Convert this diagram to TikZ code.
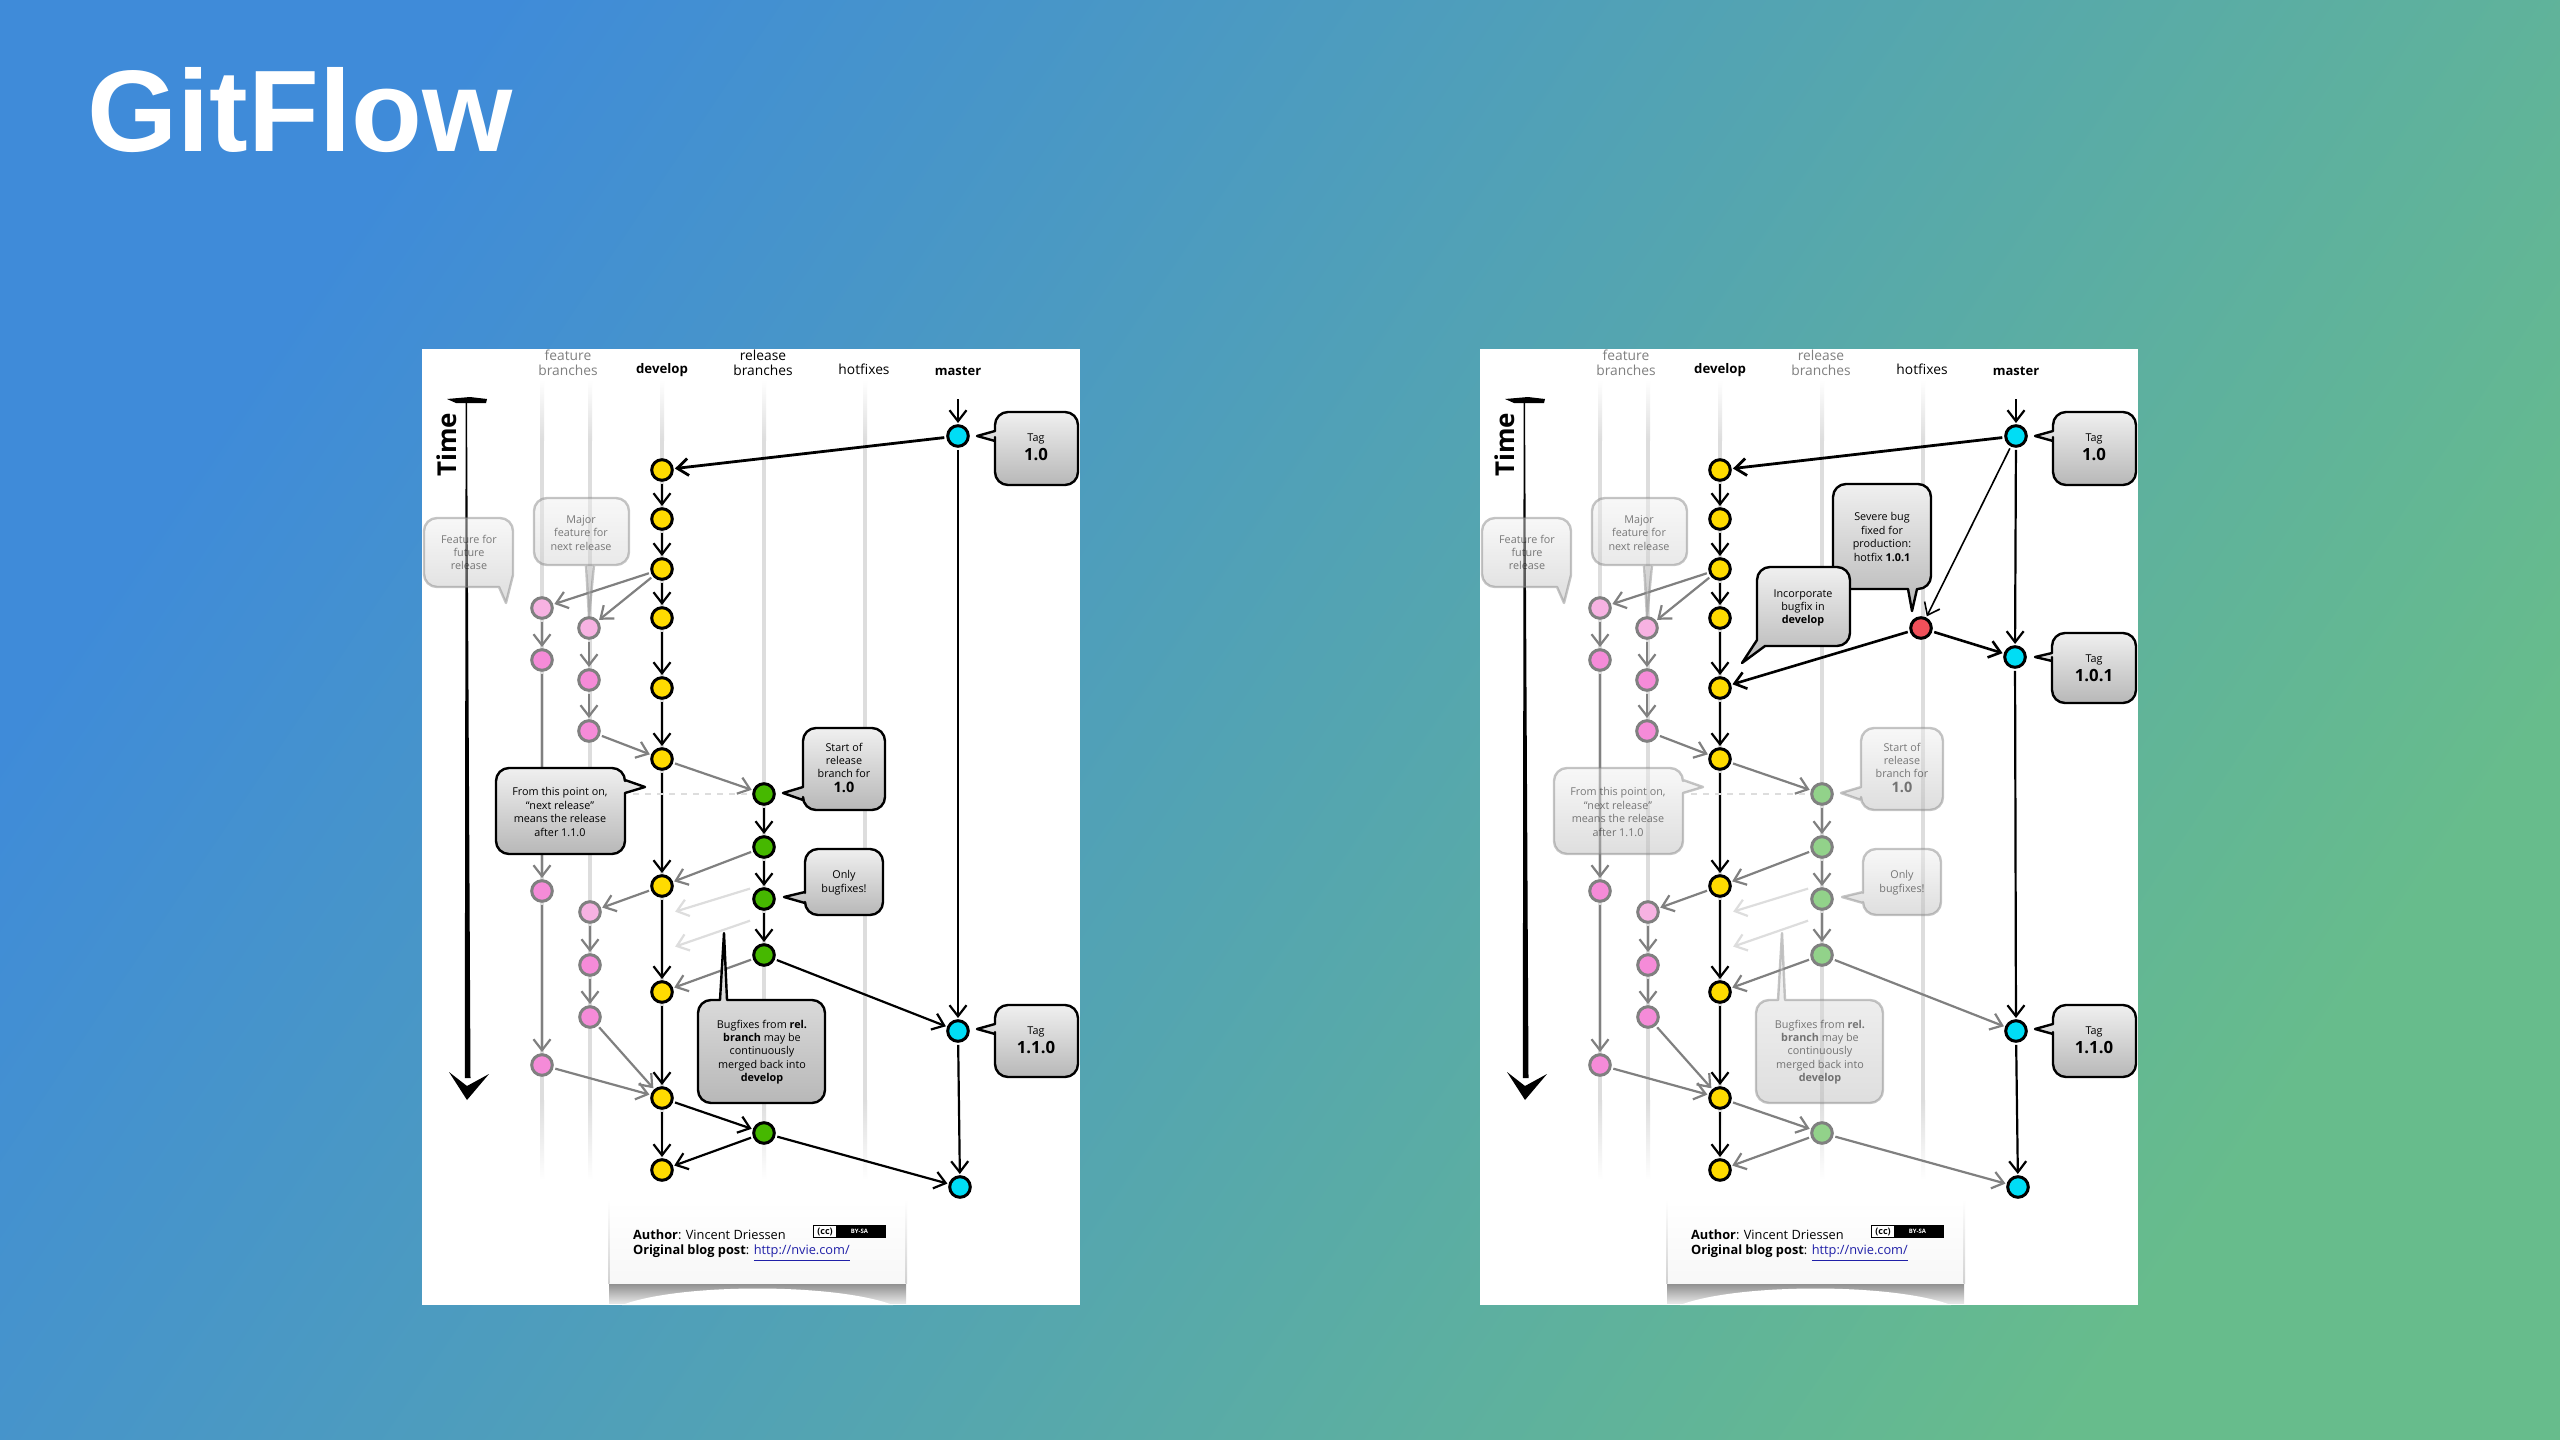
\documentclass[tikz,border=0pt]{standalone}
\usepackage{fontspec}
\setmainfont{Open Sans}
\newfontfamily\titlefont{Liberation Sans}
\usetikzlibrary{arrows.meta}

\definecolor{bgblue}{HTML}{3F8BD9}
\definecolor{bggreen}{HTML}{67BC8C}
\definecolor{commityellow}{HTML}{FFDB00}
\definecolor{commitcyan}{HTML}{00DDF5}
\definecolor{commitgreen}{HTML}{46B800}
\definecolor{commitfade}{HTML}{92D28A}
\definecolor{commitpink}{HTML}{F58BD8}
\definecolor{commitpale}{HTML}{F7B2E2}
\definecolor{commitred}{HTML}{F0505A}
\definecolor{lifegrey}{HTML}{DDDDDD}
\definecolor{linkblue}{HTML}{2020A8}

\tikzset{
    commit/.style={circle, draw=black, line width=1.5pt, minimum size=10.3pt, inner sep=0pt},
    devnode/.style={commit, fill=commityellow},
    tagnode/.style={commit, fill=commitcyan},
    hotnode/.style={commit, fill=commitred},
    featnode/.style={commit, draw=gray, fill=commitpink},
    palenode/.style={commit, draw=gray, fill=commitpale},
    mainline/.style={draw=black, line width=1.1pt, -{Straight Barb[length=5.5pt,width=8.5pt]}, shorten <=1pt, shorten >=.6pt},
    greyline/.style={mainline, draw=gray},
    ghostline/.style={mainline, draw=lifegrey},
    bubble/.style={draw=black, line width=1.2pt, line join=round, top color=black!6, bottom color=black!28},
    fadebubble/.style={bubble, draw=gray, opacity=.45},
    bubtext/.style={align=center, font=\fontsize{5.4}{6.7}\selectfont},
    headtext/.style={align=center, font=\fontsize{6.9}{7.4}\selectfont}
}

% one grey branch line with its soft ends
\newcommand{\lifeline}[1]{
    \shade[top color=white, bottom color=lifegrey] (#1-2,380) rectangle (#1+2,440);
    \fill[lifegrey] (#1-2,440) rectangle (#1+2,1100);
    \shade[top color=lifegrey, bottom color=white] (#1-2,1100) rectangle (#1+2,1180);
}

% everything that the two pictures share
\newcommand{\flowsheet}{
    \fill[white] (422,349) rectangle (1080,1305);

    \lifeline{542}
    \lifeline{590}
    \lifeline{662}
    \lifeline{764}
    \lifeline{865}

    \node[headtext, text=gray] (featlabel) at (568,363) {feature\\branches};
    \node[headtext, font=\fontsize{6.6}{7.4}\selectfont\bfseries] (devlabel) at (662,370.5) {develop};
    \node[rellabel] (rellabel) at (763,363) {release\\branches};
    \node[headtext] (hotlabel) at (864,369) {hotfixes};
    \node[headtext, font=\fontsize{6.5}{7.4}\selectfont\bfseries] (masterlabel) at (958,371) {master};

    % time arrow
    \fill[black] (447,399) -- (470,397) -- (487,399) -- (486,403) -- (456,403) -- cycle;
    \fill[black] (465.6,400) -- (467,400) -- (470.5,1078) -- (464.8,1078) -- cycle;
    \fill[black] (449,1072) -- (467,1086) -- (489,1074) -- (467,1100) -- cycle;
    \node[rotate=90, font=\fontsize{13}{13}\selectfont\bfseries] (timelabel) at (447,445) {Time};

    % commits
    \node[devnode] (d1) at (662,470) {};
    \node[devnode] (d2) at (662,519) {};
    \node[devnode] (d3) at (662,569) {};
    \node[devnode] (d4) at (662,618) {};
    \node[devnode] (d5) at (662,688) {};
    \node[devnode] (d6) at (662,759) {};
    \node[devnode] (d7) at (662,886) {};
    \node[devnode] (d8) at (662,992) {};
    \node[devnode] (d9) at (662,1098) {};
    \node[devnode] (d10) at (662,1170) {};

    \node[palenode] (fa) at (542,608) {};
    \node[featnode] (fb) at (542,660) {};
    \node[featnode] (fc) at (542,891) {};
    \node[featnode] (fd) at (542,1065) {};

    \node[palenode] (ga) at (589,628) {};
    \node[featnode] (gb) at (589,680) {};
    \node[featnode] (gc) at (589,731) {};
    \node[palenode] (gd) at (590,912) {};
    \node[featnode] (ge) at (590,965) {};
    \node[featnode] (gf) at (590,1017) {};

    \node[relnode] (r1) at (764,794) {};
    \node[relnode] (r2) at (764,847) {};
    \node[relnode] (r3) at (764,899) {};
    \node[relnode] (r4) at (764,955) {};
    \node[relnode] (r5) at (764,1133) {};

    \node[tagnode] (m1) at (958,436) {};
    \node[tagnode] (m3) at (958,1031) {};
    \node[tagnode] (m4) at (960,1187) {};

    \coordinate (masterin) at (958,397);
    \coordinate (fromdash) at (633,794);
    \coordinate (ghostaa) at (752,888);
    \coordinate (ghostab) at (674,912);
    \coordinate (ghostba) at (752,920);
    \coordinate (ghostbb) at (674,947);

    % connectors
    \draw[mainline] (masterin) -- (m1);
    \draw[mainline, line width=1.4pt] (m1) -- (d1);
    \draw[mainline] (m3) -- (m4);

    \draw[mainline] (d1) -- (d2);
    \draw[mainline] (d2) -- (d3);
    \draw[mainline] (d3) -- (d4);
    \draw[mainline] (d4) -- (d5);
    \draw[mainline] (d5) -- (d6);
    \draw[mainline] (d6) -- (d7);
    \draw[mainline] (d7) -- (d8);
    \draw[mainline] (d8) -- (d9);
    \draw[mainline] (d9) -- (d10);

    \draw[greyline] (d3) -- (fa);
    \draw[greyline] (d3) -- (ga);
    \draw[greyline] (fa) -- (fb);
    \draw[greyline] (fb) -- (fc);
    \draw[greyline] (fc) -- (fd);
    \draw[greyline] (fd) -- (d9);

    \draw[greyline] (ga) -- (gb);
    \draw[greyline] (gb) -- (gc);
    \draw[greyline] (gc) -- (d6);
    \draw[greyline] (d7) -- (gd);
    \draw[greyline] (gd) -- (ge);
    \draw[greyline] (ge) -- (gf);
    \draw[greyline] (gf) -- (d9);

    \draw[greyline] (d6) -- (r1);
    \draw[greyline] (r2) -- (d7);
    \draw[greyline] (r4) -- (d8);
    \draw[relline] (r1) -- (r2);
    \draw[relline] (r2) -- (r3);
    \draw[relline] (r3) -- (r4);
    \draw[relline] (r4) -- (m3);
    \draw[relline] (d9) -- (r5);
    \draw[relline] (r5) -- (d10);
    \draw[relline] (r5) -- (m4);

    \draw[ghostline] (ghostaa) -- (ghostab);
    \draw[ghostline] (ghostba) -- (ghostbb);
    \draw[draw=lifegrey, line width=1.2pt, dashed] (fromdash) -- (r1);

    % notes
    \draw[bubble] (995,450) [sharp corners] -- (995,441) -- (977,436) -- (995,431) [rounded corners=6.5pt] -- (995,412) -- (1078,412) -- (1078,485) -- (995,485) -- cycle;
    \node[bubtext] (tagone) at (1036,447) {Tag\\[1.3pt]{\fontsize{8.4}{9}\selectfont\bfseries 1.0}};

    \draw[bubble] (995,1045) [sharp corners] -- (995,1034) -- (977,1029) -- (995,1024) [rounded corners=6.5pt] -- (995,1005) -- (1078,1005) -- (1078,1077) -- (995,1077) -- cycle;
    \node[bubtext] (tagthree) at (1036,1040) {Tag\\[1.3pt]{\fontsize{8.4}{9}\selectfont\bfseries 1.1.0}};

    \draw[fadebubble] (513,560) [sharp corners] -- (513,575) -- (506,603) -- (499,587) [rounded corners=6.5pt] -- (424,587) -- (424,518) -- (513,518) -- cycle;
    \node[bubtext, text opacity=.5] (notefuture) at (469,552.5) {Feature for\\future\\release};

    \draw[fadebubble] (581,565) [sharp corners] -- (586,565) -- (589,617) -- (594,565) [rounded corners=6.5pt] -- (629,565) -- (629,498) -- (534,498) -- (534,565) -- cycle;
    \node[bubtext, text opacity=.5] (notemajor) at (581,533) {Major\\feature for\\next release};

    \draw[relbubble] (625,810) [sharp corners] -- (625,793) -- (645,787) -- (625,780) [rounded corners=6.5pt] -- (625,768) -- (496,768) -- (496,854) -- (625,854) -- cycle;
    \node[bubtext, reltext] (notepoint) at (560,812) {From this point on,\\``next release''\\means the release\\after 1.1.0};

    \draw[relbubble] (803,770) [sharp corners] -- (803,787) -- (783,793) -- (803,800) [rounded corners=6.5pt] -- (803,810) -- (885,810) -- (885,728) -- (803,728) -- cycle;
    \node[bubtext, reltext] (notestart) at (844,768) {Start of\\release\\branch for\\[.8pt]{\fontsize{7.2}{8}\selectfont\bfseries 1.0}};

    \draw[relbubble] (805,880) [sharp corners] -- (805,892) -- (784,897) -- (805,903) [rounded corners=6.5pt] -- (805,915) -- (883,915) -- (883,849) -- (805,849) -- cycle;
    \node[bubtext, reltext] (noteonly) at (844,882.5) {Only\\bugfixes!};

    \draw[relbubble] (760,1000) [sharp corners] -- (727,1000) -- (724,933) -- (720,1000) [rounded corners=6.5pt] -- (698,1000) -- (698,1103) -- (825,1103) -- (825,1000) -- cycle;
    \node[bubtext, reltext] (notefixes) at (762,1052) {Bugfixes from \textbf{rel.}\\\textbf{branch} may be\\continuously\\merged back into\\\textbf{develop}};

    % credit sheet
    \shade[top color=black!45, bottom color=black!10] (609,1283) rectangle (906,1303);
    \fill[white] (622,1305) .. controls (680,1283) and (835,1283) .. (893,1305) -- cycle;
    \shade[top color=white, bottom color=black!3] (609,1200) rectangle (906,1283);
    \shade[top color=white, bottom color=black!18] (608,1200) rectangle (609.5,1283);
    \shade[top color=white, bottom color=black!18] (905.5,1200) rectangle (907,1283);
    \node[anchor=west, align=left, font=\fontsize{6.4}{7.5}\selectfont] (credit) at (626,1246) {\textbf{Author}: Vincent Driessen\\\textbf{Original blog post}: {\color{linkblue}\underline{http://nvie.com/}}};
    \node[fill=black, text=white, minimum width=36.5pt, minimum height=6.5pt, inner sep=0pt, font=\fontsize{3}{3}\selectfont\bfseries] (ccbadge) at (849.5,1231.5) {\hspace{10pt}BY-SA};
    \node[fill=white, draw=black, line width=.5pt, minimum width=11.5pt, minimum height=6pt, inner sep=0pt, font=\fontsize{4.5}{4.5}\selectfont\bfseries] (ccmark) at (825,1231.5) {(cc)};
}

\begin{document}
\begin{tikzpicture}[x=.5pt, y=-.5pt]
    \useasboundingbox (0,0) rectangle (2560,1440);
    \fill[top color=bgblue, bottom color=bggreen, shading angle=56] (0,0) rectangle (2560,1440);

    \node[anchor=base west, text=white, font=\titlefont\fontsize{58}{58}\selectfont\bfseries, inner sep=0pt] (title) at (87,151) {GitFlow};

    \begin{scope}[name prefix=left-,
            relnode/.style={commit, fill=commitgreen},
            relline/.style={mainline},
            rellabel/.style={headtext},
            relbubble/.style={bubble},
            reltext/.style={}]
        \flowsheet
    \end{scope}

    \begin{scope}[xshift=529pt, name prefix=right-,
            relnode/.style={commit, draw=gray, fill=commitfade},
            relline/.style={greyline},
            rellabel/.style={headtext, text=gray},
            relbubble/.style={fadebubble},
            reltext/.style={text opacity=.5}]
        \flowsheet
    \end{scope}

    % master line of the left picture
    \begin{scope}[name prefix=left-]
        \draw[mainline] (m1) -- (m3);
    \end{scope}

    % hotfix of the right picture
    \begin{scope}[xshift=529pt, name prefix=right-]
        \node[hotnode] (h1) at (863,628) {};
        \node[tagnode] (m2) at (957,657) {};

        \draw[mainline] (m1) -- (m2);
        \draw[mainline] (m2) -- (m3);
        \draw[mainline, line width=.8pt] (m1) -- (h1);
        \draw[mainline, line width=1.3pt] (h1) -- (m2);
        \draw[mainline, line width=1.3pt] (h1) -- (d5);

        \draw[bubble] (994,670) [sharp corners] -- (994,661) -- (977,657) -- (994,653) [rounded corners=6.5pt] -- (994,633) -- (1078,633) -- (1078,703) -- (994,703) -- cycle;
        \node[bubtext] (tagtwo) at (1036,668) {Tag\\[1.3pt]{\fontsize{8.4}{9}\selectfont\bfseries 1.0.1}};

        \draw[bubble] (830,589) [sharp corners] -- (850,589) -- (854,611) -- (859,589) [rounded corners=6.5pt] -- (873,589) -- (873,484) -- (775,484) -- (775,589) -- cycle;
        \node[bubtext] (notesevere) at (824,537) {Severe bug\\fixed for\\production:\\hotfix \textbf{1.0.1}};

        \draw[bubble] (699,600) [sharp corners] -- (699,640) -- (684,663) -- (707,646) [rounded corners=6.5pt] -- (792,646) -- (792,567) -- (699,567) -- cycle;
        \node[bubtext] (notebugfix) at (745,608) {Incorporate\\bugfix in\\\textbf{develop}};
    \end{scope}
\end{tikzpicture}
\end{document}
